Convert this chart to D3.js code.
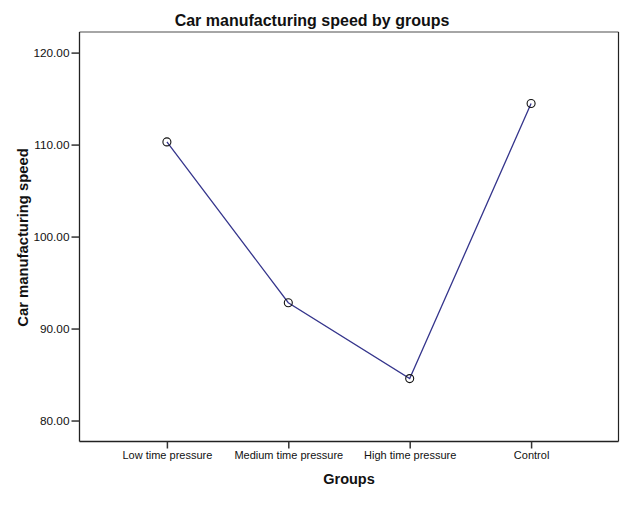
<!DOCTYPE html>
<html><head><meta charset="utf-8">
<script src="https://cdn.jsdelivr.net/npm/d3@7"></script>
<style>
body{margin:0;background:#fff;}
text{font-family:"Liberation Sans",Arial,sans-serif;}
</style></head>
<body><svg id="c" width="625" height="526"></svg>
<script>
const categories = ["Low time pressure","Medium time pressure","High time pressure","Control"];
const values = [110.29, 92.81, 84.56, 114.46];
const yTicks = [80, 90, 100, 110, 120];
const title = "Car manufacturing speed by groups";
const xTitle = "Groups";
const yTitle = "Car manufacturing speed";

const svg = d3.select("#c");
const L = 79.5, R = 618.5, T = 32, B = 441.5;

const x = d3.scalePoint().domain(categories).range([L, R]).padding(0.72);
const y = d3.scaleLinear().domain([77.72, 122.24]).range([B, T]);

svg.append("rect").attr("width",625).attr("height",526).attr("fill","#fff");

// frame
svg.append("line").attr("x1",L).attr("x2",R).attr("y1",T).attr("y2",T).attr("stroke","#888").attr("stroke-width",1.5);
svg.append("line").attr("x1",R).attr("x2",R).attr("y1",T).attr("y2",B).attr("stroke","#222").attr("stroke-width",1.2);

const yAxis = svg.append("g").attr("transform",`translate(${L},0)`)
  .call(d3.axisLeft(y).tickValues(yTicks).tickSize(8).tickPadding(2).tickFormat(d3.format(".2f")));
const xAxis = svg.append("g").attr("transform",`translate(0,${B})`)
  .call(d3.axisBottom(x).tickSize(7).tickPadding(3));
[yAxis,xAxis].forEach(a=>{
  a.select(".domain").attr("stroke","#222").attr("stroke-width",1.3);
  a.selectAll(".tick line").attr("stroke","#333").attr("stroke-width",1.5);
  a.selectAll("text").attr("font-family","'Liberation Sans',Arial,sans-serif").attr("font-size",11).attr("fill","#111");
});
yAxis.selectAll("text").attr("font-size",11.8);
yAxis.select(".domain").attr("d",`M-0,${B}V${T}`);
xAxis.select(".domain").attr("d",`M${L},0H${R}`);

// line
const line = d3.line().x((d,i)=>x(categories[i])).y(d=>y(d));
svg.append("path").datum(values).attr("d",line).attr("fill","none").attr("stroke","#35358c").attr("stroke-width",1.3);
svg.selectAll("circle.pt").data(values).enter().append("circle").attr("class","pt")
  .attr("cx",(d,i)=>x(categories[i])).attr("cy",d=>y(d)).attr("r",4)
  .attr("fill","none").attr("stroke","#111").attr("stroke-width",1.1);

// titles
svg.append("text").attr("x",312).attr("y",26).attr("text-anchor","middle")
  .attr("font-size",16).attr("font-weight","bold").attr("fill","#111").text(title);
svg.append("text").attr("x",349).attr("y",484).attr("text-anchor","middle")
  .attr("font-size",14.5).attr("font-weight","bold").attr("fill","#111").text(xTitle);
svg.append("text").attr("transform",`translate(28,237.5) rotate(-90)`).attr("text-anchor","middle")
  .attr("font-size",14.8).attr("font-weight","bold").attr("fill","#111").text(yTitle);
</script></body></html>
